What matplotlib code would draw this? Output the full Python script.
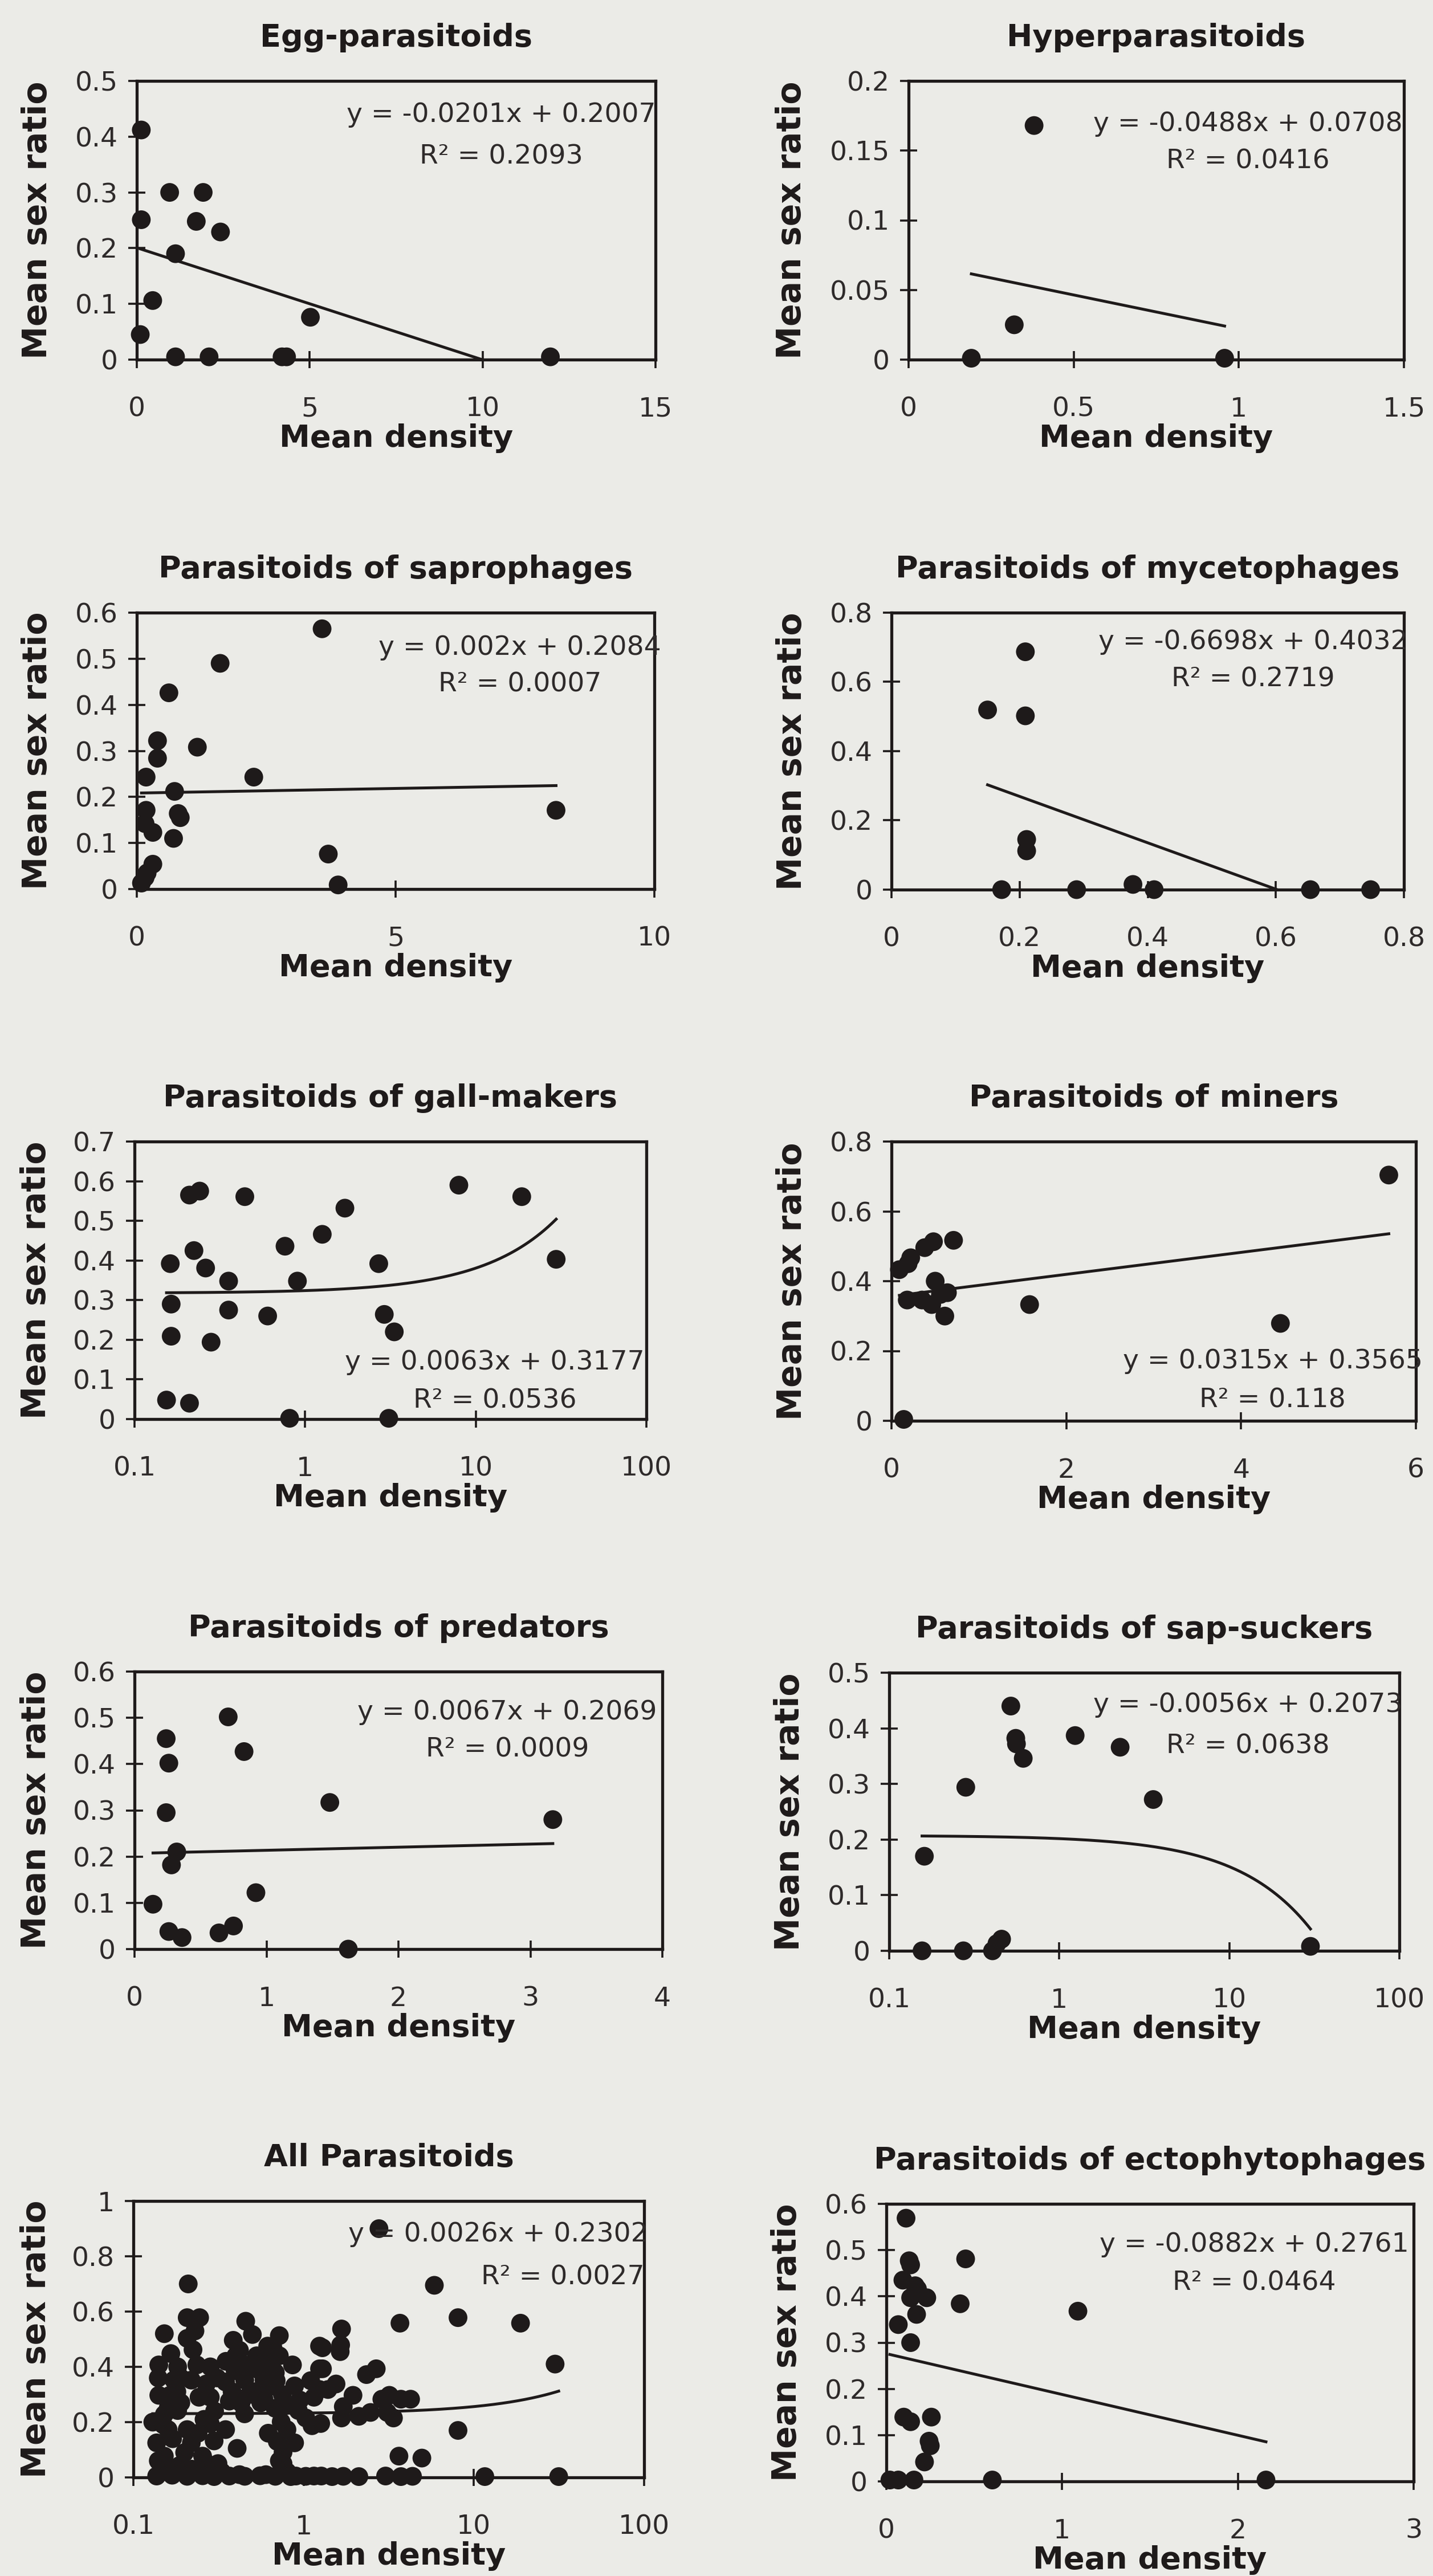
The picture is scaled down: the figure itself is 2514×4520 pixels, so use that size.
import matplotlib
matplotlib.use('Agg')
import matplotlib.pyplot as plt
from matplotlib.ticker import FixedLocator, FuncFormatter, NullLocator
import numpy as np

W, H = 2514, 4520
PAPER = '#ebebe7'
INK = '#1e1a1a'
GREY_INK = '#2e2a2a'

# ---- data (mean density, mean sex ratio) ----
egg_x = [0.13, 0.13, 0.10, 0.46, 0.95, 1.92, 1.72, 2.42, 1.12, 1.12, 2.09, 4.20, 4.33, 5.02, 11.96]
egg_y = [0.412, 0.251, 0.045, 0.106, 0.300, 0.300, 0.248, 0.229, 0.190, 0.005, 0.005, 0.005, 0.005, 0.076, 0.005]
egg_fit = [-0.0201, 0.2007, 0.2093]

hyper_x = [0.19, 0.32, 0.38, 0.957]
hyper_y = [0.001, 0.025, 0.168, 0.001]
hyper_fit = [-0.0488, 0.0708, 0.0416]

sapro_x = [3.58, 1.61, 0.62, 0.40, 0.40, 1.17, 0.18, 2.26, 0.73, 0.18, 0.80, 0.84, 0.16, 0.31,
           0.71, 0.31, 0.16, 0.09, 0.20, 8.10, 3.70, 3.89]
sapro_y = [0.565, 0.490, 0.426, 0.322, 0.284, 0.308, 0.243, 0.243, 0.212, 0.171, 0.164, 0.155, 0.142, 0.123,
           0.110, 0.054, 0.025, 0.013, 0.035, 0.171, 0.076, 0.009]
sapro_fit = [0.002, 0.2084, 0.0007]

myceto_x = [0.150, 0.209, 0.209, 0.211, 0.211, 0.172, 0.289, 0.377, 0.41, 0.654, 0.748]
myceto_y = [0.519, 0.687, 0.502, 0.145, 0.112, 0.0, 0.0, 0.015, 0.0, 0.0, 0.0]
myceto_fit = [-0.6698, 0.4032, 0.2719]

gall_x = [0.154, 0.210, 0.162, 0.164, 0.164, 0.210, 0.241, 0.223, 0.261, 0.281, 0.356, 0.356, 0.443,
          0.603, 0.762, 0.901, 0.811, 1.26, 1.71, 2.70, 2.91, 3.33, 3.09, 7.96, 18.6, 29.6]
gall_y = [0.048, 0.040, 0.392, 0.290, 0.209, 0.565, 0.575, 0.425, 0.381, 0.194, 0.348, 0.275, 0.561,
          0.260, 0.436, 0.348, 0.002, 0.466, 0.532, 0.392, 0.264, 0.220, 0.002, 0.590, 0.561, 0.403]
gall_fit = [0.0063, 0.3177, 0.0536]

miners_x = [0.14, 0.09, 0.19, 0.22, 0.38, 0.48, 0.71, 0.18, 0.35, 0.46, 0.50, 0.56, 0.64, 0.61, 1.58, 4.45, 5.69]
miners_y = [0.004, 0.433, 0.450, 0.467, 0.496, 0.513, 0.517, 0.346, 0.346, 0.333, 0.400, 0.362, 0.367, 0.300,
            0.333, 0.279, 0.704]
miners_fit = [0.0315, 0.3565, 0.118]

pred_x = [0.14, 0.24, 0.26, 0.24, 0.32, 0.28, 0.26, 0.36, 0.64, 0.75, 0.71, 0.83, 0.92, 1.48, 1.62, 3.17]
pred_y = [0.097, 0.455, 0.402, 0.295, 0.210, 0.182, 0.038, 0.025, 0.035, 0.050, 0.502, 0.427, 0.122, 0.317,
          0.0, 0.280]
pred_fit = [0.0067, 0.2069, 0.0009]

sap_x = [0.156, 0.161, 0.273, 0.282, 0.405, 0.430, 0.458, 0.519, 0.555, 0.56, 0.614, 1.24, 2.28, 3.57, 30.0]
sap_y = [0.0, 0.170, 0.0, 0.294, 0.0, 0.013, 0.021, 0.440, 0.382, 0.372, 0.346, 0.387, 0.366, 0.272, 0.008]
sap_fit = [-0.0056, 0.2073, 0.0638]

all_x = [0.21, 0.207, 0.245, 0.152, 0.457, 0.207, 0.386, 0.50, 0.72, 0.615, 1.24, 0.166, 0.224, 0.141,
         0.182, 0.236, 0.283, 0.396, 0.475, 0.555, 0.682, 0.86, 1.24, 0.173, 0.219, 0.268, 0.348, 0.451,
         0.585, 0.141, 0.164, 0.243, 0.283, 0.366, 0.429, 0.585, 0.885, 1.24, 0.152, 0.182, 0.931, 1.03,
         1.12, 0.160, 0.283, 0.348, 0.738, 0.798, 0.137, 0.207, 0.219, 0.298, 0.407, 0.885, 0.152, 0.255,
         0.757, 0.152, 0.187, 0.314, 0.757,
         0.137, 0.169, 0.207, 0.255, 0.298, 0.366, 0.451, 0.555, 0.682, 0.84, 1.03, 1.27,
         0.42, 0.60, 0.90, 1.15,
         0.65, 0.75, 0.68, 0.52, 0.31, 0.19, 0.45, 0.62, 0.17, 0.26, 0.72, 0.40,
         0.14, 0.15, 0.14, 0.16, 0.18, 0.20, 0.22, 0.24, 0.27, 0.33, 0.38, 0.42, 0.48, 0.53, 0.56,
         0.60, 0.66, 0.70, 0.72, 0.69, 0.78, 0.80, 0.95, 1.10, 1.15, 0.23, 0.35, 0.13, 0.19, 0.30,
         2.77, 5.86, 3.68, 8.07, 18.8, 30.0, 1.67, 1.65, 1.64, 1.29, 1.29, 2.34, 2.67, 1.55, 1.39, 1.95,
         1.71, 1.67, 2.11, 2.47, 2.88, 3.19, 3.73, 4.25, 3.37, 3.10, 8.07, 3.63, 4.95, 1.26,
         1.47, 1.71, 2.11, 3.03, 3.73, 4.36, 11.6, 31.5]
all_y = [0.70, 0.578, 0.578, 0.52, 0.565, 0.503, 0.496, 0.517, 0.513, 0.475, 0.475, 0.448, 0.462, 0.407,
         0.40, 0.407, 0.40, 0.386, 0.407, 0.386, 0.379, 0.407, 0.393, 0.352, 0.352, 0.338, 0.345, 0.352,
         0.352, 0.297, 0.297, 0.29, 0.29, 0.276, 0.269, 0.283, 0.331, 0.318, 0.228, 0.242, 0.242, 0.215,
         0.187, 0.173, 0.194, 0.173, 0.201, 0.173, 0.125, 0.173, 0.125, 0.132, 0.105, 0.125, 0.077, 0.077,
         0.091, 0.036, 0.043, 0.05, 0.05,
         0.005, 0.008, 0.004, 0.006, 0.003, 0.005, 0.004, 0.006, 0.004, 0.003, 0.004, 0.005,
         0.010, 0.010, 0.005, 0.005,
         0.33, 0.30, 0.25, 0.31, 0.36, 0.27, 0.23, 0.16, 0.14, 0.21, 0.44, 0.44,
         0.36, 0.19, 0.06, 0.25, 0.31, 0.09, 0.03, 0.16, 0.05, 0.02, 0.31, 0.46, 0.30, 0.44, 0.27,
         0.42, 0.47, 0.13, 0.06, 0.35, 0.26, 0.02, 0.28, 0.35, 0.29, 0.53, 0.42, 0.20, 0.36, 0.24,
         0.90, 0.695, 0.558, 0.578, 0.558, 0.41, 0.537, 0.479, 0.455, 0.469, 0.393, 0.372, 0.393, 0.338,
         0.318, 0.297, 0.256, 0.215, 0.221, 0.235, 0.283, 0.297, 0.283, 0.283, 0.215, 0.235, 0.17, 0.077,
         0.07, 0.195,
         0.003, 0.004, 0.003, 0.005, 0.003, 0.004, 0.003, 0.003]
all_fit = [0.0026, 0.2302, 0.0027]

ecto_x = [0.112, 0.13, 0.138, 0.451, 0.094, 0.164, 0.177, 0.23, 0.138, 0.172, 0.42, 1.09, 0.068, 0.138,
          0.099, 0.138, 0.256, 0.243, 0.25, 0.217, 0.02, 0.068, 0.157, 0.603, 2.16]
ecto_y = [0.569, 0.477, 0.468, 0.481, 0.435, 0.423, 0.416, 0.397, 0.397, 0.361, 0.384, 0.368, 0.339, 0.300,
          0.139, 0.129, 0.139, 0.087, 0.077, 0.042, 0.003, 0.003, 0.003, 0.003, 0.003]
ecto_fit = [-0.0882, 0.2761, 0.0464]

# ---- panel layout (pixel box: left, top, right, bottom) ----
panels = [
    dict(title='Egg-parasitoids', x=egg_x, y=egg_y, fit=egg_fit, log=False,
         xlim=(0, 15), xticks=[0, 5, 10, 15], ylim=(0, 0.5), yticks=[0, 0.1, 0.2, 0.3, 0.4, 0.5],
         box=(240, 142, 1150, 631), eq=(0.703, 0.853, 0.703, 0.703), ylab=-158),
    dict(title='Hyperparasitoids', x=hyper_x, y=hyper_y, fit=hyper_fit, log=False,
         xlim=(0, 1.5), xticks=[0, 0.5, 1, 1.5], ylim=(0, 0.2), yticks=[0, 0.05, 0.1, 0.15, 0.2],
         box=(1594, 142, 2463, 631), eq=(0.685, 0.82, 0.687, 0.685), ylab=-189),
    dict(title='Parasitoids of saprophages', x=sapro_x, y=sapro_y, fit=sapro_fit, log=False,
         xlim=(0, 10), xticks=[0, 5, 10], ylim=(0, 0.6), yticks=[0, 0.1, 0.2, 0.3, 0.4, 0.5, 0.6],
         box=(240, 1075, 1148, 1560), eq=(0.74, 0.847, 0.715, 0.74), ylab=-158),
    dict(title='Parasitoids of mycetophages', x=myceto_x, y=myceto_y, fit=myceto_fit, log=False,
         xlim=(0, 0.8), xticks=[0, 0.2, 0.4, 0.6, 0.8], ylim=(0, 0.8), yticks=[0, 0.2, 0.4, 0.6, 0.8],
         box=(1564, 1075, 2463, 1561), eq=(0.706, 0.868, 0.733, 0.706), ylab=-158),
    dict(title='Parasitoids of gall-makers', x=gall_x, y=gall_y, fit=gall_fit, log=True,
         xlim=(0.1, 100), xticks=[0.1, 1, 10, 100], ylim=(0, 0.7), yticks=[0, 0.1, 0.2, 0.3, 0.4, 0.5, 0.6, 0.7],
         box=(236, 2003, 1134, 2490), eq=(0.704, 0.178, 0.041, 0.704), ylab=-156),
    dict(title='Parasitoids of miners', x=miners_x, y=miners_y, fit=miners_fit, log=False,
         xlim=(0, 6), xticks=[0, 2, 4, 6], ylim=(0, 0.8), yticks=[0, 0.2, 0.4, 0.6, 0.8],
         box=(1564, 2003, 2484, 2493), eq=(0.727, 0.188, 0.047, 0.727), ylab=-158),
    dict(title='Parasitoids of predators', x=pred_x, y=pred_y, fit=pred_fit, log=False,
         xlim=(0, 4), xticks=[0, 1, 2, 3, 4], ylim=(0, 0.6), yticks=[0, 0.1, 0.2, 0.3, 0.4, 0.5, 0.6],
         box=(236, 2933, 1162, 3420), eq=(0.706, 0.828, 0.692, 0.706), ylab=-156),
    dict(title='Parasitoids of sap-suckers', x=sap_x, y=sap_y, fit=sap_fit, log=True,
         xlim=(0.1, 100), xticks=[0.1, 1, 10, 100], ylim=(0, 0.5), yticks=[0, 0.1, 0.2, 0.3, 0.4, 0.5],
         box=(1560, 2935, 2455, 3423), eq=(0.703, 0.859, 0.711, 0.703), ylab=-158),
    dict(title='All Parasitoids', x=all_x, y=all_y, fit=all_fit, log=True,
         xlim=(0.1, 100), xticks=[0.1, 1, 10, 100], ylim=(0, 1), yticks=[0, 0.2, 0.4, 0.6, 0.8, 1],
         box=(234, 3862, 1130, 4347), eq=(0.714, 0.854, 0.697, 0.841), ylab=-154),
    dict(title='Parasitoids of ectophytophages', x=ecto_x, y=ecto_y, fit=ecto_fit, log=False,
         xlim=(0, 3), xticks=[0, 1, 2, 3], ylim=(0, 0.6), yticks=[0, 0.1, 0.2, 0.3, 0.4, 0.5, 0.6],
         box=(1555, 3867, 2480, 4354), eq=(0.698, 0.828, 0.688, 0.698), ylab=-158),
]

fmt = FuncFormatter(lambda v, p: f'{v:g}')


def draw_panel(fig, p):
    L, T, R, B = p['box']
    aw, ah = R - L, B - T
    ax = fig.add_axes([L / W, 1 - B / H, aw / W, ah / H])
    ax.set_facecolor(PAPER)

    x = np.array(p['x'])
    y = np.array(p['y'])
    ax.scatter(x, y, s=560, color=INK, edgecolors='none', clip_on=False, zorder=3)

    slope, icpt, r2 = p['fit']
    if p['log']:
        ax.set_xscale('log')
        xs = np.geomspace(x.min(), x.max(), 300)
    else:
        xs = np.linspace(x.min(), x.max(), 300)
    ax.plot(xs, slope * xs + icpt, color=INK, lw=3.6, zorder=4)

    ax.set_xlim(*p['xlim'])
    ax.set_ylim(*p['ylim'])
    ax.xaxis.set_major_locator(FixedLocator(p['xticks']))
    ax.xaxis.set_minor_locator(NullLocator())
    ax.yaxis.set_major_locator(FixedLocator(p['yticks']))
    ax.xaxis.set_major_formatter(fmt)
    ax.yaxis.set_major_formatter(fmt)

    for s in ax.spines.values():
        s.set_linewidth(3.8)
        s.set_color(INK)
    ax.tick_params(axis='both', direction='inout', length=21, width=2.6, color=INK,
                   labelsize=34, labelcolor=GREY_INK)
    ax.tick_params(axis='x', pad=36)
    ax.tick_params(axis='y', pad=13)

    ax.set_title(p['title'], fontsize=39, fontweight='bold', color=INK, pad=44)
    ax.set_xlabel('Mean density', fontsize=39, fontweight='bold', color=INK)
    ax.xaxis.set_label_coords(0.5, -112 / ah)
    ax.set_ylabel('Mean sex ratio', fontsize=42, fontweight='bold', color=INK)
    ax.yaxis.set_label_coords((p['ylab'] + 12) / aw, 0.5)

    ex1, ey1, ey2, ex2 = p['eq']
    sign = '+' if icpt >= 0 else '-'
    ax.text(ex1, ey1, f'y = {slope}x {sign} {abs(icpt)}', transform=ax.transAxes,
            ha='center', va='baseline', fontsize=34, color=GREY_INK, zorder=5)
    ax.text(ex2, ey2, f'R\u00b2 = {r2}', transform=ax.transAxes,
            ha='center', va='baseline', fontsize=34, color=GREY_INK, zorder=5)


fig = plt.figure(figsize=(W / 100, H / 100), dpi=100, facecolor=PAPER)
for p in panels:
    draw_panel(fig, p)
fig.savefig('out.png', dpi=100, facecolor=PAPER)
